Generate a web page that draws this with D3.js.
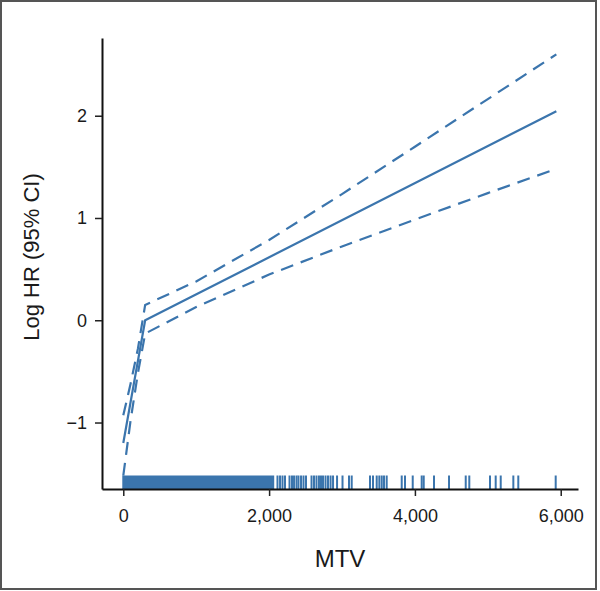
<!DOCTYPE html>
<html>
<head>
<meta charset="utf-8">
<script src="https://cdn.jsdelivr.net/npm/d3@7"></script>
<style>
  body { margin: 0; background: #fff; }
  svg { display: block; }
</style>
</head>
<body>
<svg id="chart" width="600" height="591"></svg>
<script>
// estimated log HR curve (linear spline, knot near 300)
const fitX = [0, 300, 5940];
const fitY = [-1.2, 0, 2.044];

// 95% CI bounds
const ciX = [0, 100, 200, 300, 1000, 2000, 3000, 4000, 5000, 5940];
const ciUpper = [-0.93, -0.62, -0.28, 0.15, 0.38, 0.785, 1.234, 1.697, 2.163, 2.60];
const ciLower = [-1.52, -0.98, -0.52, -0.13, 0.129, 0.447, 0.722, 0.985, 1.243, 1.48];

// rug: dense band of observations, then single ticks
const rugDense = [0, 2070];
const rugTicks = [2115, 2150, 2184, 2218, 2280, 2314, 2342, 2376, 2403, 2438, 2472, 2506,
  2582, 2616, 2650, 2684, 2712, 2739, 2774, 2808, 2843, 2877, 2932, 3007,
  3096, 3133, 3384, 3425, 3476, 3512, 3545, 3576, 3613, 3819, 3864, 3970,
  4093, 4121, 4262, 4468, 4697, 4746, 5030, 5108, 5177, 5350, 5418, 5931];

const xTicks = [0, 2000, 4000, 6000];
const yTicks = [-1, 0, 1, 2];

const blue = "#3b75ad";
const font = "'Liberation Sans', Arial, Helvetica, sans-serif";

const svg = d3.select("#chart");

// outer frame
svg.append("rect")
  .attr("x", 1).attr("y", 1)
  .attr("width", 595).attr("height", 588)
  .attr("fill", "none")
  .attr("stroke", "#555")
  .attr("stroke-width", 2);

const x = d3.scaleLinear().domain([-292, 6237]).range([102, 578]);
const y = d3.scaleLinear().domain([-1.65, 2.76]).range([489, 38]);

const line = d3.line()
  .x(d => x(d[0]))
  .y(d => y(d[1]));

const g = svg.append("g");

// fitted line
g.append("path")
  .attr("d", line(d3.zip(fitX, fitY)))
  .attr("fill", "none")
  .attr("stroke", blue)
  .attr("stroke-width", 2.2);

// CI lines
[ciUpper, ciLower].forEach(vals => {
  g.append("path")
    .attr("d", line(d3.zip(ciX, vals)))
    .attr("fill", "none")
    .attr("stroke", blue)
    .attr("stroke-width", 2.2)
    .attr("stroke-dasharray", "13,8");
});

// rug
const rugTop = 475.5, rugBottom = 489;
g.append("rect")
  .attr("x", x(rugDense[0]) - 1)
  .attr("y", rugTop)
  .attr("width", x(rugDense[1]) - x(rugDense[0]) + 1)
  .attr("height", rugBottom - rugTop)
  .attr("fill", blue);

g.selectAll("line.rug")
  .data(rugTicks)
  .join("line")
  .attr("class", "rug")
  .attr("x1", d => x(d)).attr("x2", d => x(d))
  .attr("y1", rugTop).attr("y2", rugBottom)
  .attr("stroke", blue)
  .attr("stroke-width", 2);

// axes
const xAxis = svg.append("g")
  .attr("transform", "translate(0,489)")
  .call(d3.axisBottom(x).tickValues(xTicks).tickFormat(d3.format(","))
    .tickSize(7).tickSizeOuter(0).tickPadding(13));

const yAxis = svg.append("g")
  .attr("transform", "translate(102,0)")
  .call(d3.axisLeft(y).tickValues(yTicks).tickFormat(d3.format("d"))
    .tickSize(7).tickSizeOuter(0).tickPadding(8));

[xAxis, yAxis].forEach(ax => {
  ax.select(".domain").attr("stroke", "#111").attr("stroke-width", 2);
  ax.selectAll(".tick line").attr("stroke", "#222").attr("stroke-width", 1.5);
  ax.selectAll(".tick text")
    .attr("fill", "#1a1a1a")
    .style("font-family", font)
    .style("font-size", "18px");
});

// labels
svg.append("text")
  .attr("x", 340).attr("y", 567)
  .attr("text-anchor", "middle")
  .style("font-family", font)
  .style("font-size", "24px")
  .attr("fill", "#1a1a1a")
  .text("MTV");

svg.append("text")
  .attr("transform", "translate(39,257) rotate(-90)")
  .attr("text-anchor", "middle")
  .style("font-family", font)
  .style("font-size", "22px")
  .attr("fill", "#1a1a1a")
  .text("Log HR (95% CI)");
</script>
</body>
</html>
